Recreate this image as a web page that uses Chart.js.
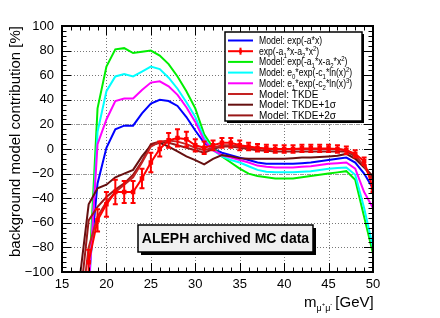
<!DOCTYPE html>
<html>
<head>
<meta charset="utf-8">
<script src="https://cdn.jsdelivr.net/npm/chart.js@4/dist/chart.umd.min.js"></script>
<style>
  html, body { margin: 0; padding: 0; background: #fff; }
  #c { display: block; }
</style>
</head>
<body>
<canvas id="c" width="440" height="318"></canvas>
<script>
// 質量 [GeV]
const masses = [17, 18, 19, 20, 21, 22, 23, 24, 25, 26, 27, 28, 29, 30, 31, 32, 33, 34, 35, 36, 37, 38, 39, 40, 41, 42, 43, 44, 45, 46, 47, 48, 49, 50];

// モデルごとの寄与 [%]
const expLin = [-220, -105, -28, 1, 16, 19, 19, 29, 37, 40, 39, 35, 26, 15, 5, 0, -3, -5, -7, -9, -11, -12, -12, -12, -12, -11.5, -11, -10, -9, -8, -7, -11, -20, -32];
const expQuad = [-300, -110, 33, 67, 81, 82, 78, 79, 80, 76, 69, 59, 47, 33, 12, 1, -6, -11, -16, -20, -22, -23, -24, -24, -24, -23, -22, -21, -20, -19, -18, -25, -55, -85];
const lnSquare = [-300, -120, 14, 47, 59, 61, 59, 63, 67, 65, 58, 49, 38, 26, 9, -1, -6, -9, -11, -14, -17, -18.5, -19, -19, -19, -18.5, -18, -17, -16, -15.5, -15, -21, -48, -80];
const lnCube = [-300, -115, 4, 24, 39, 41, 41, 48, 54, 55, 51, 44, 34, 22, 7, -1, -5, -7, -9, -11, -13.5, -14.5, -15, -15, -15, -14.5, -14, -13, -12, -11.5, -11, -16, -35, -48];
const tkde = [-140, -80, -55, -43, -35, -29, -23, -11, 2, 6, 7, 6, 4, 1, -1, 1, 3, 3, 2, 1, 0.5, 0, 0, 0, 0, 0, 0, 0, 0, 0, -1, -5, -14, -26];
const tkde1s = [-105, -45, -32, -29, -23, -20, -17, -6, 3, 5, 2, -2, -6, -9, -12.5, -8, -5, -6, -7.5, -8, -8, -8, -8, -8, -7.5, -7, -7, -6.5, -6, -5.5, -4, -8, -15, -22];
const tkde2s = [-125, -58, -47, -39, -33, -28, -21, -10, 4, 6, 5, 3, 1, -1, -3, 0, 2, 2, 1, 0, -1, -1.5, -2, -2, -2, -2, -2, -2, -2, -2, -2, -6, -14, -24];

// 赤い点（誤差付き）
const fitData = [null, -92, -58, -45, -35, -35, -35, -24, -11, 0, 7, 9, 8, 3, 1, 3, 5, 5, 3, 2, 1, 0.5, 0, 0, 0, 0.5, 0.5, 0.5, 0.5, 0, -1, -4, -10, -32];
const fitErr = [null, 10, 9, 10, 10, 9, 9, 8, 8, 6, 6, 7, 6, 5, 5, 4, 4, 4, 4, 3, 3, 3, 3, 3, 3, 3, 3, 3, 3, 3, 3, 3, 3, 3];

// 目盛り
const xTicks = [15, 20, 25, 30, 35, 40, 45, 50];
const yTicks = [-100, -80, -60, -40, -20, 0, 20, 40, 60, 80, 100];

const legendLabels = [
    'Model: exp(-a*x)',
    'exp(-a_{1}*x-a_{2}*x^{2})',
    'Model: exp(-a_{1}*x-a_{2}*x^{2})',
    'Model: e_{0}*exp(-c_{1}*ln(x)^{2})',
    'Model: e_{1}*exp(-c_{2}*ln(x)^{3})',
    'Model: TKDE',
    'Model: TKDE+1\u03c3',
    'Model: TKDE+2\u03c3'
];

const FONT = '"Liberation Sans", Arial, sans-serif';

function pts(arr) {
    return masses.map((m, i) => ({ x: m, y: arr[i] }));
}

function lineSet(label, arr, color, order) {
    return {
        label: label,
        data: pts(arr),
        borderColor: color,
        backgroundColor: color,
        borderWidth: 2,
        pointRadius: 0,
        tension: 0,
        fill: false,
        order: order
    };
}

const colors = ['#0000ff', '#ff0000', '#00ee00', '#00ffff', '#ff00ff', '#c42222', '#661010', '#991818'];

// 文字列の上付き・下付きを分解
function parseRich(s) {
    let out = [], buf = '', i = 0;
    while (i < s.length) {
        let c = s[i];
        if ((c === '_' || c === '^') && s[i + 1] === '{') {
            if (buf) { out.push({ t: buf, k: 0 }); buf = ''; }
            let end = s.indexOf('}', i + 2);
            out.push({ t: s.slice(i + 2, end), k: c === '_' ? 1 : 2 });
            i = end + 1;
        } else {
            buf += c;
            i++;
        }
    }
    if (buf) out.push({ t: buf, k: 0 });
    return out;
}

function drawRich(ctx, s, x, y, size, sx) {
    let parts = parseRich(s);
    ctx.save();
    ctx.translate(x, y);
    ctx.scale(sx, 1);
    ctx.textAlign = 'left';
    ctx.textBaseline = 'alphabetic';
    let cx = 0;
    for (let p of parts) {
        let sz = p.k ? size * 0.7 : size;
        let dy = p.k === 1 ? size * 0.3 : (p.k === 2 ? -size * 0.4 : 0);
        ctx.font = sz + 'px ' + FONT;
        ctx.fillText(p.t, cx, dy);
        cx += ctx.measureText(p.t).width;
    }
    ctx.restore();
}

const decor = {
    id: 'decor',
    beforeDatasetsDraw(chart) {
        const { ctx, chartArea: a, scales } = chart;
        const xs = scales.x, ys = scales.y;
        ctx.save();
        ctx.lineWidth = 1;
        ctx.strokeStyle = '#777';
        ctx.setLineDash([1, 2]);
        for (let v of xTicks) {
            if (v === 15 || v === 50) continue;
            let px = Math.round(xs.getPixelForValue(v)) + 0.5;
            ctx.beginPath(); ctx.moveTo(px, a.top); ctx.lineTo(px, a.bottom); ctx.stroke();
        }
        for (let v of yTicks) {
            if (v === -100 || v === 100) continue;
            let py = Math.round(ys.getPixelForValue(v)) + 0.5;
            if (Math.abs(v) === 20) { ctx.setLineDash([4, 1, 1, 1]); ctx.strokeStyle = '#999'; }
            else { ctx.setLineDash([1, 2]); ctx.strokeStyle = '#777'; }
            ctx.beginPath(); ctx.moveTo(a.left, py); ctx.lineTo(a.right, py); ctx.stroke();
        }
        ctx.restore();
    },
    afterDatasetsDraw(chart) {
        const { ctx, chartArea: a, scales } = chart;
        const xs = scales.x, ys = scales.y;
        ctx.save();

        // 誤差棒
        ctx.beginPath();
        ctx.rect(a.left, a.top, a.right - a.left, a.bottom - a.top);
        ctx.clip();
        ctx.strokeStyle = '#ff0000';
        ctx.lineWidth = 2;
        masses.forEach((m, i) => {
            if (fitData[i] === null) return;
            let px = xs.getPixelForValue(m);
            let y1 = ys.getPixelForValue(fitData[i] + fitErr[i]);
            let y2 = ys.getPixelForValue(fitData[i] - fitErr[i]);
            ctx.beginPath();
            ctx.moveTo(px, y1); ctx.lineTo(px, y2);
            ctx.moveTo(px - 2.5, y1); ctx.lineTo(px + 2.5, y1);
            ctx.moveTo(px - 2.5, y2); ctx.lineTo(px + 2.5, y2);
            ctx.stroke();
        });
        ctx.restore();

        ctx.save();
        // 枠
        ctx.strokeStyle = '#000';
        ctx.lineWidth = 2;
        ctx.strokeRect(a.left, a.top, a.right - a.left, a.bottom - a.top);

        // 目盛り線
        ctx.lineWidth = 1;
        ctx.beginPath();
        for (let v = 15; v <= 50; v++) {
            let px = Math.round(xs.getPixelForValue(v)) + 0.5;
            let len = v % 5 === 0 ? 9 : 4.5;
            ctx.moveTo(px, a.bottom); ctx.lineTo(px, a.bottom - len);
            ctx.moveTo(px, a.top); ctx.lineTo(px, a.top + len);
        }
        for (let v = -100; v <= 100; v += 4) {
            let py = Math.round(ys.getPixelForValue(v)) + 0.5;
            let len = v % 20 === 0 ? 9 : 4.5;
            ctx.moveTo(a.left, py); ctx.lineTo(a.left + len, py);
            ctx.moveTo(a.right, py); ctx.lineTo(a.right - len, py);
        }
        ctx.stroke();

        // 目盛りラベル
        ctx.fillStyle = '#000';
        ctx.font = '13px ' + FONT;
        ctx.textAlign = 'center';
        ctx.textBaseline = 'middle';
        for (let v of xTicks) {
            ctx.fillText(String(v), xs.getPixelForValue(v), a.bottom + 12);
        }
        ctx.textAlign = 'right';
        for (let v of yTicks) {
            let t = v < 0 ? '\u2212' + Math.abs(v) : String(v);
            ctx.fillText(t, a.left - 8, ys.getPixelForValue(v));
        }

        // 軸タイトル
        ctx.save();
        ctx.translate(20, a.top);
        ctx.rotate(-Math.PI / 2);
        ctx.font = '15px ' + FONT;
        ctx.textAlign = 'right';
        ctx.textBaseline = 'alphabetic';
        ctx.fillText('background model contribution [%]', 0, 0);
        ctx.restore();

        // x軸タイトル m_{μ+μ-} [GeV]
        ctx.textBaseline = 'alphabetic';
        ctx.textAlign = 'left';
        let tx = 304, ty = 307;
        ctx.font = '15px ' + FONT;
        ctx.fillText('m', tx, ty); tx += ctx.measureText('m').width;
        ctx.font = '9px ' + FONT;
        ctx.fillText('\u03bc', tx, ty + 4); tx += ctx.measureText('\u03bc').width;
        ctx.font = '6px ' + FONT;
        ctx.fillText('+', tx, ty - 1); tx += ctx.measureText('+').width;
        ctx.font = '9px ' + FONT;
        ctx.fillText('\u03bc', tx, ty + 4); tx += ctx.measureText('\u03bc').width;
        ctx.font = '6px ' + FONT;
        ctx.fillText('-', tx, ty - 1); tx += ctx.measureText('-').width + 3;
        ctx.font = '15px ' + FONT;
        ctx.fillText('[GeV]', tx, ty);

        // 凡例
        let lx = 225, ly = 32, lw = 137, lh = 89;
        ctx.fillStyle = '#000';
        ctx.fillRect(lx + 2, ly + 2, lw, lh);
        ctx.fillStyle = '#fff';
        ctx.fillRect(lx, ly, lw, lh);
        ctx.strokeStyle = '#000';
        ctx.lineWidth = 1.5;
        ctx.strokeRect(lx, ly, lw, lh);
        legendLabels.forEach((lab, i) => {
            let yy = 40.5 + i * 10.7;
            ctx.strokeStyle = colors[i];
            ctx.lineWidth = 2;
            ctx.beginPath(); ctx.moveTo(228, yy); ctx.lineTo(253, yy); ctx.stroke();
            if (i === 1) {
                ctx.beginPath(); ctx.moveTo(240.5, yy - 3.5); ctx.lineTo(240.5, yy + 3.5); ctx.stroke();
                ctx.fillStyle = colors[i];
                ctx.fillRect(239, yy - 1.5, 3, 3);
            }
            ctx.fillStyle = '#000';
            let sx = lab.indexOf('exp') >= 0 ? 0.86 : 1;
            drawRich(ctx, lab, 259, yy + 3.5, 10, sx);
        });

        // 注記ボックス
        let bx = 138, by = 225, bw = 175, bh = 27;
        ctx.fillStyle = '#000';
        ctx.fillRect(bx + 3, by + 3, bw, bh);
        ctx.fillStyle = '#f0f0f0';
        ctx.fillRect(bx, by, bw, bh);
        ctx.strokeStyle = '#000';
        ctx.lineWidth = 1.5;
        ctx.strokeRect(bx, by, bw, bh);
        ctx.fillStyle = '#000';
        ctx.font = 'bold 14px ' + FONT;
        ctx.textAlign = 'center';
        ctx.textBaseline = 'middle';
        ctx.fillText('ALEPH archived MC data', bx + bw / 2, by + bh / 2 + 1);
        ctx.restore();
    }
};

const ctx = document.getElementById('c').getContext('2d');
const chart = new Chart(ctx, {
    type: 'line',
    data: {
        datasets: [
            lineSet('Model: exp(-a*x)', expLin, colors[0], 5),
            {
                label: 'exp(-a1*x-a2*x^2)',
                data: pts(fitData),
                borderColor: colors[1],
                backgroundColor: colors[1],
                borderWidth: 2,
                pointRadius: 1.8,
                pointStyle: 'rect',
                tension: 0,
                fill: false,
                order: 0
            },
            lineSet('Model: exp(-a1*x-a2*x^2)', expQuad, colors[2], 4),
            lineSet('Model: e0*exp(-c1*ln(x)^2)', lnSquare, colors[3], 3),
            lineSet('Model: e1*exp(-c2*ln(x)^3)', lnCube, colors[4], 2),
            lineSet('Model: TKDE', tkde, colors[5], 1),
            lineSet('Model: TKDE+1σ', tkde1s, colors[6], 1),
            lineSet('Model: TKDE+2σ', tkde2s, colors[7], 1)
        ]
    },
    options: {
        responsive: false,
        animation: false,
        devicePixelRatio: 1,
        layout: { padding: { left: 62, right: 67, top: 26, bottom: 46 } },
        plugins: { legend: { display: false }, tooltip: { enabled: false } },
        scales: {
            x: { type: 'linear', min: 15, max: 50, display: false },
            y: { min: -100, max: 100, display: false }
        }
    },
    plugins: [decor]
});
</script>
</body>
</html>
